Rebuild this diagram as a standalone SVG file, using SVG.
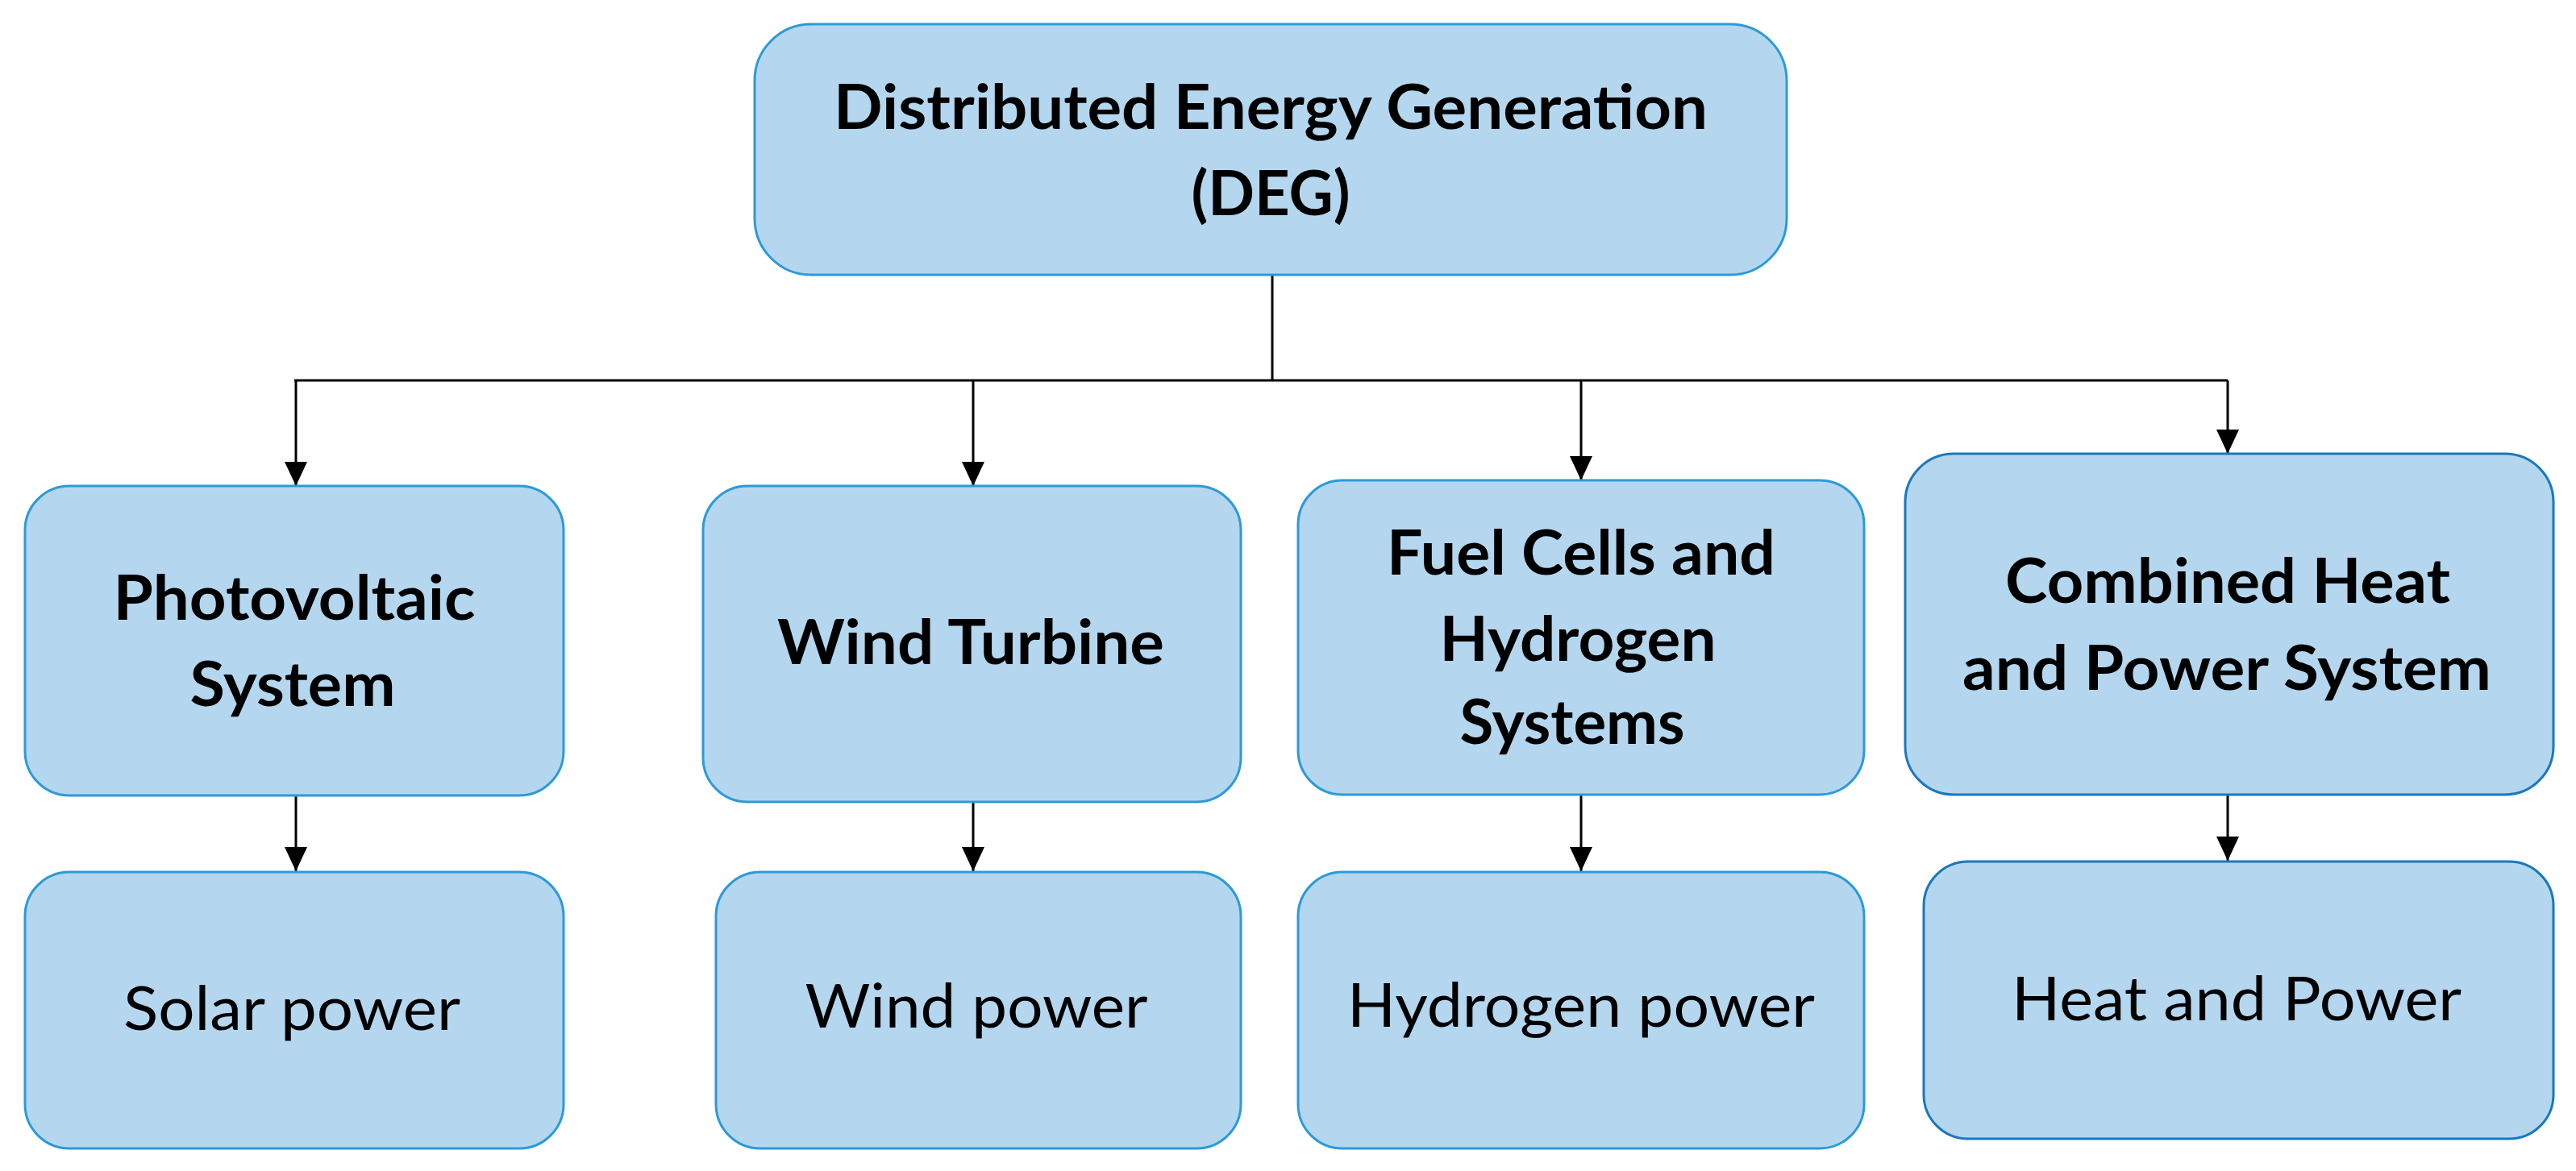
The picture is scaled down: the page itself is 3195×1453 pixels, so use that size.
<svg xmlns="http://www.w3.org/2000/svg" width="3195" height="1453" viewBox="0 0 3195 1453">
<style>
.box{fill:#B4D7EF;stroke:#2C9AD8;stroke-width:3}
.box2{fill:#B4D7EF;stroke:#1A78BD;stroke-width:3}
.b{font-family:Lato,"Liberation Sans",sans-serif;font-weight:bold;font-size:76px;fill:#000;text-anchor:middle}
.r{font-family:Lato,"Liberation Sans",sans-serif;font-weight:normal;font-size:76px;fill:#000;text-anchor:middle}
.ln{fill:none;stroke:#000;stroke-width:3}
</style>
<defs>
<marker id="ah" markerUnits="userSpaceOnUse" markerWidth="30" markerHeight="28" refX="30" refY="14" orient="auto" viewBox="0 0 30 28">
<path d="M0,0 L30,14 L0,28 z" fill="#000"/>
</marker>
</defs>
<rect width="3195" height="1453" fill="#fff"/>
<g id="connectors">
<path class="ln" d="M1578,341 V472 M365,472 H2763"/>
<path class="ln" d="M367,472 V603" marker-end="url(#ah)"/>
<path class="ln" d="M1207,472 V603" marker-end="url(#ah)"/>
<path class="ln" d="M1961,472 V596" marker-end="url(#ah)"/>
<path class="ln" d="M2763,472 V563" marker-end="url(#ah)"/>
<path class="ln" d="M367,987 V1081" marker-end="url(#ah)"/>
<path class="ln" d="M1207,995 V1081" marker-end="url(#ah)"/>
<path class="ln" d="M1961,986 V1081" marker-end="url(#ah)"/>
<path class="ln" d="M2763,986 V1068" marker-end="url(#ah)"/>
</g>
<g id="deg">
<rect class="box" x="936" y="30" width="1280" height="311" rx="70" ry="70"/>
<text class="b" x="1576" y="160" textLength="1084" lengthAdjust="spacingAndGlyphs">Distributed Energy Generation</text>
<text class="b" x="1576" y="267">(DEG)</text>
</g>
<g id="pv">
<rect class="box" x="31" y="603" width="668" height="384" rx="55" ry="55"/>
<text class="b" x="365" y="769" textLength="449" lengthAdjust="spacingAndGlyphs">Photovoltaic</text>
<text class="b" x="363" y="876" textLength="255" lengthAdjust="spacingAndGlyphs">System</text>
</g>
<g id="wt">
<rect class="box" x="872" y="603" width="667" height="392" rx="55" ry="55"/>
<text class="b" x="1204" y="824" textLength="480" lengthAdjust="spacingAndGlyphs">Wind Turbine</text>
</g>
<g id="fc">
<rect class="box" x="1610" y="596" width="702" height="390" rx="55" ry="55"/>
<text class="b" x="1961" y="713" textLength="482" lengthAdjust="spacingAndGlyphs">Fuel Cells and</text>
<text class="b" x="1957" y="820" textLength="343" lengthAdjust="spacingAndGlyphs">Hydrogen</text>
<text class="b" x="1950" y="923" textLength="279" lengthAdjust="spacingAndGlyphs">Systems</text>
</g>
<g id="chp">
<rect class="box2" x="2363" y="563" width="804" height="423" rx="60" ry="60"/>
<text class="b" x="2763" y="748" textLength="552" lengthAdjust="spacingAndGlyphs">Combined Heat</text>
<text class="b" x="2762" y="856" textLength="656" lengthAdjust="spacingAndGlyphs">and Power System</text>
</g>
<g id="solar">
<rect class="box" x="31" y="1082" width="668" height="343" rx="55" ry="55"/>
<text class="r" x="362" y="1278" textLength="418" lengthAdjust="spacingAndGlyphs">Solar power</text>
</g>
<g id="windp">
<rect class="box" x="888" y="1082" width="651" height="343" rx="55" ry="55"/>
<text class="r" x="1211" y="1275" textLength="425" lengthAdjust="spacingAndGlyphs">Wind power</text>
</g>
<g id="hydp">
<rect class="box" x="1610" y="1082" width="702" height="343" rx="55" ry="55"/>
<text class="r" x="1961" y="1274" textLength="580" lengthAdjust="spacingAndGlyphs">Hydrogen power</text>
</g>
<g id="hp">
<rect class="box2" x="2386" y="1069" width="781" height="344" rx="55" ry="55"/>
<text class="r" x="2774" y="1266" textLength="558" lengthAdjust="spacingAndGlyphs">Heat and Power</text>
</g>
</svg>
